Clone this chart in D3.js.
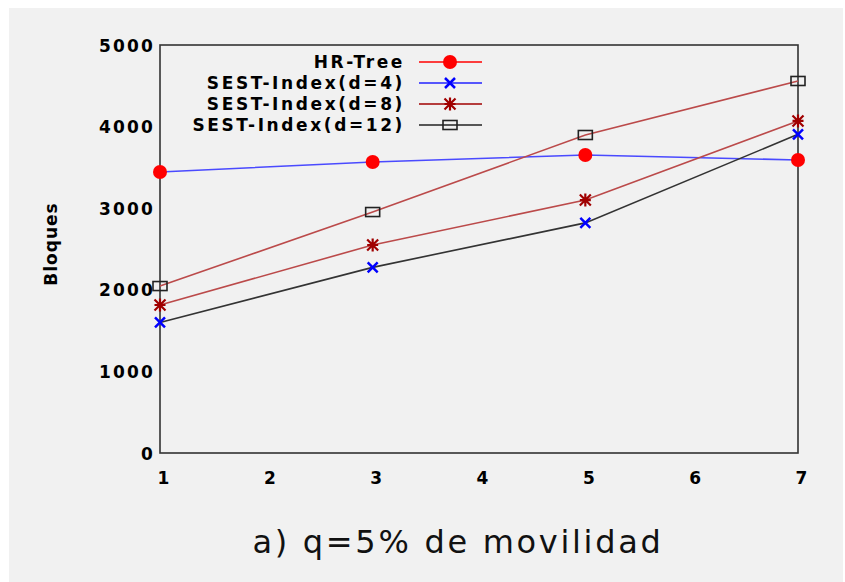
<!DOCTYPE html>
<html><head><meta charset="utf-8">
<script src="https://cdn.jsdelivr.net/npm/d3@7"></script>
<style>
html,body{margin:0;padding:0;background:#fff;}
svg{display:block;}
text{font-family:"DejaVu Sans",Verdana,sans-serif;}
</style></head>
<body>
<svg id="chart" width="845" height="582"></svg>
<script>
// ---- data ----
const xValues = [1, 3, 5, 7];
const xTicks = [1, 2, 3, 4, 5, 6, 7];
const yTicks = [0, 1000, 2000, 3000, 4000, 5000];
const seriesNames = ["HR-Tree", "SEST-Index(d=4)", "SEST-Index(d=8)", "SEST-Index(d=12)"];
const hrTree  = [3444, 3566, 3652, 3591];
const sest4   = [1600, 2275, 2820, 3905];
const sest8   = [1814, 2549, 3100, 4069];
const sest12  = [2046, 2953, 3897, 4559];
const seriesValues = [hrTree, sest4, sest8, sest12];
const yLabel = "Bloques";
const title = "a) q=5% de movilidad";

// ---- styles ----
const markerColors = ["#ff0000", "#0000ff", "#a00000", "#222222"];
const legendLineColors = ["#ff0000", "#2222ff", "#a00000", "#222222"];
const plotLineColors = ["#4a4aff", "#333333", "#bb4a4a", "#bb4a4a"];
const markerTypes = ["circle", "x", "star", "square"];

const svg = d3.select("#chart");
svg.append("rect").attr("x", 9).attr("y", 8).attr("width", 834).attr("height", 574).attr("fill", "#f1f1f1");

const m = {left: 160, right: 798, top: 45, bottom: 453};
const x = d3.scaleLinear().domain([1, 7]).range([m.left, m.right]);
const y = d3.scaleLinear().domain([0, 5000]).range([m.bottom, m.top]);

// frame
svg.append("rect").attr("x", m.left).attr("y", m.top)
  .attr("width", m.right - m.left).attr("height", m.bottom - m.top)
  .attr("fill", "none").attr("stroke", "#333").attr("stroke-width", 1.6);

// axes (labels only)
const yAxis = d3.axisLeft(y).tickValues(yTicks).tickSize(0).tickPadding(4).tickFormat(d3.format("d"));
const gy = svg.append("g").attr("transform", `translate(${m.left - 1},0)`).call(yAxis);
gy.select(".domain").remove();
gy.selectAll("text").attr("font-size", 17).attr("font-weight", "bold").attr("fill", "#000")
  .style("letter-spacing", "2.2px").attr("dy", "0.36em");

const xAxis = d3.axisBottom(x).tickValues(xTicks).tickSize(0).tickPadding(19).tickFormat(d3.format("d"));
const gx = svg.append("g").attr("transform", `translate(3,${m.bottom})`).call(xAxis);
gx.select(".domain").remove();
gx.selectAll("text").attr("font-size", 17).attr("font-weight", "bold").attr("fill", "#000");

// y label
svg.append("text").attr("transform", "translate(57,244) rotate(-90)")
  .attr("text-anchor", "middle").attr("font-size", 17).attr("font-weight", "bold")
  .style("letter-spacing", "1px").attr("fill", "#000").text(yLabel);

// title
svg.append("text").attr("x", 458).attr("y", 553).attr("text-anchor", "middle")
  .attr("font-size", 32).style("letter-spacing", "2.7px").attr("fill", "#111").text(title);

function drawMarker(g, type, cx, cy, color) {
  if (type === "circle") {
    g.append("circle").attr("cx", cx).attr("cy", cy).attr("r", 7).attr("fill", color);
  } else if (type === "x") {
    const s = 5;
    g.append("path").attr("d", `M${cx-s},${cy-s}L${cx+s},${cy+s}M${cx-s},${cy+s}L${cx+s},${cy-s}`)
      .attr("stroke", color).attr("stroke-width", 2.5).attr("fill", "none");
  } else if (type === "star") {
    const s = 5.5;
    g.append("path").attr("d",
      `M${cx-s},${cy-s}L${cx+s},${cy+s}M${cx-s},${cy+s}L${cx+s},${cy-s}M${cx},${cy-s-1}L${cx},${cy+s+1}M${cx-s},${cy}L${cx+s},${cy}`)
      .attr("stroke", color).attr("stroke-width", 2.2).attr("fill", "none");
  } else if (type === "square") {
    g.append("rect").attr("x", cx - 7).attr("y", cy - 4.5).attr("width", 14).attr("height", 9)
      .attr("fill", "none").attr("stroke", color).attr("stroke-width", 1.6);
  }
}

// plot lines
const line = d3.line().x((d, i) => x(xValues[i])).y(d => y(d));
seriesValues.forEach((vals, k) => {
  svg.append("path").datum(vals).attr("d", line).attr("fill", "none")
    .attr("stroke", plotLineColors[k]).attr("stroke-width", 1.6);
});
// markers
seriesValues.forEach((vals, k) => {
  const g = svg.append("g");
  vals.forEach((v, i) => drawMarker(g, markerTypes[k], x(xValues[i]), y(v), markerColors[k]));
});

// legend
const legendY = [62, 83, 104, 125];
seriesNames.forEach((name, k) => {
  const g = svg.append("g");
  g.append("text").attr("x", 405).attr("y", legendY[k]).attr("dy", "0.36em")
    .attr("text-anchor", "end").attr("font-size", 17).attr("font-weight", "bold")
    .style("letter-spacing", "2.6px").attr("fill", "#000").text(name);
  g.append("line").attr("x1", 419).attr("x2", 482).attr("y1", legendY[k]).attr("y2", legendY[k])
    .attr("stroke", legendLineColors[k]).attr("stroke-width", 1.6);
  drawMarker(g, markerTypes[k], 450, legendY[k], markerColors[k]);
});
</script>
</body></html>
